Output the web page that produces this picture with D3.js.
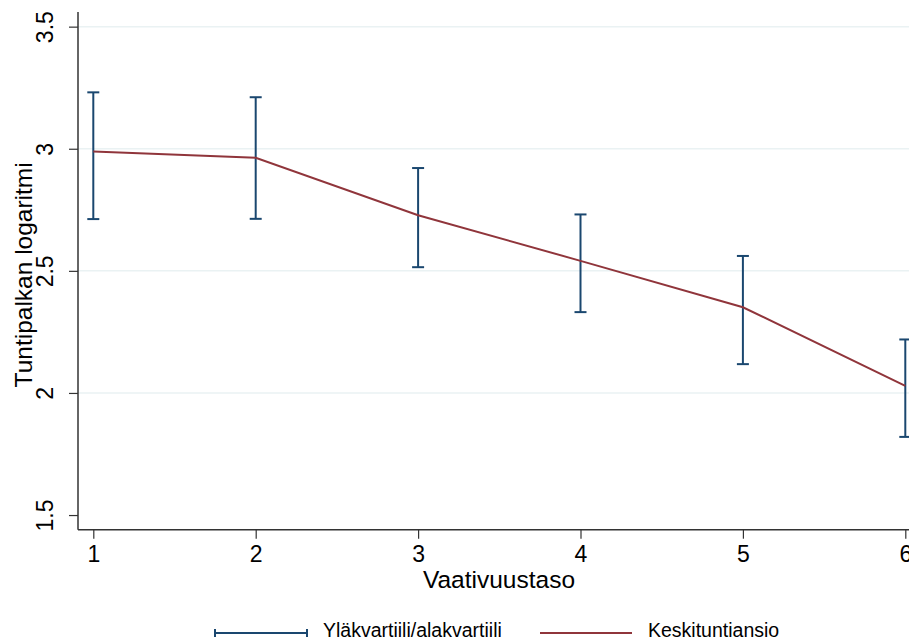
<!DOCTYPE html>
<html>
<head>
<meta charset="utf-8">
<script src="https://cdn.jsdelivr.net/npm/d3@7"></script>
<style>
  body { margin: 0; background: #fff; }
  svg { display: block; }
  svg text { font-family: Arial, "Liberation Sans", sans-serif; }
</style>
</head>
<body>
<svg width="909" height="640"></svg>
<script>
// vaativuustasot ja arvot
var levels = [1, 2, 3, 4, 5, 6];
var means = [2.989, 2.963, 2.728, 2.541, 2.351, 2.029];
var upper = [3.231, 3.211, 2.921, 2.731, 2.561, 2.219];
var lower = [2.712, 2.713, 2.515, 2.331, 2.118, 1.820];
var yTicks = [1.5, 2, 2.5, 3, 3.5];

var navy = "#1a476f", red = "#90353b";

var svg = d3.select("svg");

var x = d3.scaleLinear().domain([1, 6]).range([93.3, 905.3]);
var y = d3.scaleLinear().domain([1.44, 3.56]).range([529.7, 12]);

var x0 = 78, x1 = 960;

// gridlines
svg.append("g").selectAll("line")
  .data(yTicks.filter(d => d > 1.5))
  .enter().append("line")
  .attr("x1", x0).attr("x2", x1)
  .attr("y1", d => y(d)).attr("y2", d => y(d))
  .attr("stroke", "#eaf2f3").attr("stroke-width", 1.5);

// y axis
var yAxis = svg.append("g")
  .attr("transform", "translate(" + x0 + ",0)")
  .call(d3.axisLeft(y).tickValues(yTicks).tickSize(9).tickSizeOuter(0).tickFormat(d3.format("")));
yAxis.attr("font-family", null);
yAxis.select(".domain").attr("d", "M0," + y.range()[0] + "V" + y.range()[1]).attr("stroke", "#333").attr("stroke-width", 1.5);
yAxis.selectAll(".tick line").attr("stroke", "#333").attr("stroke-width", 1.2);
yAxis.selectAll(".tick text")
  .attr("font-size", 23).attr("fill", "#000")
  .attr("x", 0).attr("y", 0).attr("dy", 0)
  .attr("text-anchor", "middle")
  .attr("transform", "translate(-25,0) rotate(-90)");

// x axis
var xAxis = svg.append("g")
  .attr("transform", "translate(0," + y.range()[0] + ")")
  .call(d3.axisBottom(x).tickValues(levels).tickSize(9).tickSizeOuter(0).tickFormat(d3.format("d")));
xAxis.attr("font-family", null);
xAxis.select(".domain").attr("d", "M" + x0 + ",0H" + x1).attr("stroke", "#333").attr("stroke-width", 1.5);
xAxis.selectAll(".tick line").attr("stroke", "#333").attr("stroke-width", 1.2);
xAxis.selectAll(".tick text").attr("font-size", 23).attr("fill", "#000").attr("y", 32.5).attr("dy", 0);

// axis titles
svg.append("text")
  .attr("transform", "translate(32," + ((y.range()[0] + y.range()[1]) / 2 + 4) + ") rotate(-90)")
  .attr("text-anchor", "middle")
  .attr("font-size", 24.5)
  .text("Tuntipalkan logaritmi");

svg.append("text")
  .attr("x", 499).attr("y", 587.5)
  .attr("text-anchor", "middle")
  .attr("font-size", 24.5)
  .text("Vaativuustaso");

// error bars
var bars = svg.append("g").attr("stroke", navy).attr("stroke-width", 2);
levels.forEach(function(l, i) {
  bars.append("line")
    .attr("x1", x(l)).attr("x2", x(l))
    .attr("y1", y(upper[i])).attr("y2", y(lower[i]));
  [upper[i], lower[i]].forEach(function(v) {
    bars.append("line")
      .attr("x1", x(l) - 6).attr("x2", x(l) + 6)
      .attr("y1", y(v)).attr("y2", y(v));
  });
});

// mean line
var line = d3.line()
  .x((d, i) => x(levels[i]))
  .y(d => y(d));
svg.append("path")
  .datum(means)
  .attr("d", line)
  .attr("fill", "none")
  .attr("stroke", red)
  .attr("stroke-width", 2);

// legend
var leg = svg.append("g").attr("font-size", 19.5);
var ly = 633;
leg.append("line").attr("x1", 215).attr("x2", 307).attr("y1", ly).attr("y2", ly)
  .attr("stroke", navy).attr("stroke-width", 2);
[215, 307].forEach(function(px) {
  leg.append("line").attr("x1", px).attr("x2", px).attr("y1", ly - 4).attr("y2", ly + 4)
    .attr("stroke", navy).attr("stroke-width", 2);
});
leg.append("text").attr("x", 323).attr("y", 637).text("Yläkvartiili/alakvartiili");
leg.append("line").attr("x1", 540).attr("x2", 632).attr("y1", ly).attr("y2", ly)
  .attr("stroke", red).attr("stroke-width", 2);
leg.append("text").attr("x", 648).attr("y", 637).text("Keskituntiansio");
</script>
</body>
</html>
